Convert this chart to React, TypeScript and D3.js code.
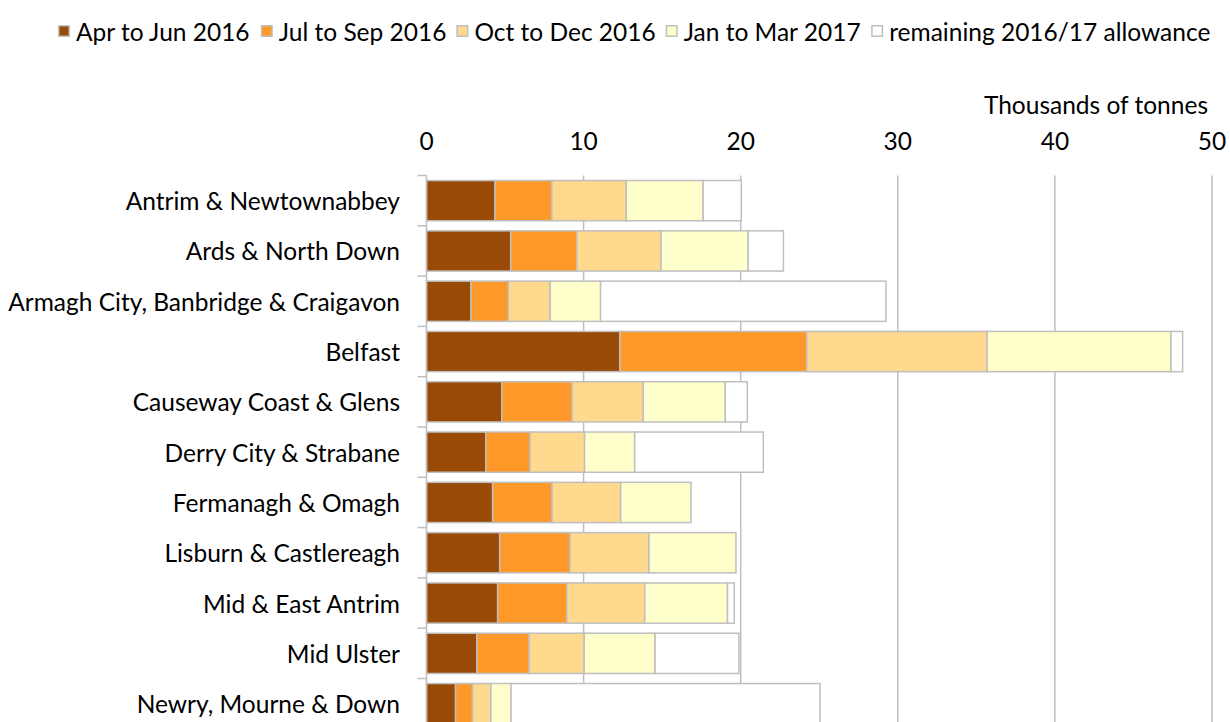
import React, { useMemo } from "react";
import * as d3 from "d3";

// council areas, top to bottom
const councils = [
  "Antrim & Newtownabbey",
  "Ards & North Down",
  "Armagh City, Banbridge & Craigavon",
  "Belfast",
  "Causeway Coast & Glens",
  "Derry City & Strabane",
  "Fermanagh & Omagh",
  "Lisburn & Castlereagh",
  "Mid & East Antrim",
  "Mid Ulster",
  "Newry, Mourne & Down",
];

// thousands of tonnes, per quarter
const aprJun = [4.36, 5.36, 2.83, 12.31, 4.79, 3.78, 4.21, 4.66, 4.53, 3.21, 1.85];
const julSep = [3.62, 4.21, 2.38, 11.89, 4.48, 2.81, 3.78, 4.47, 4.4, 3.32, 1.08];
const octDec = [4.74, 5.36, 2.66, 11.48, 4.53, 3.47, 4.37, 5.03, 4.96, 3.51, 1.17];
const janMar = [4.89, 5.55, 3.21, 11.71, 5.22, 3.19, 4.48, 5.54, 5.27, 4.51, 1.28];
const remaining = [2.43, 2.24, 18.17, 0.74, 1.4, 8.19, 0, 0, 0.43, 5.34, 19.67];

const seriesKeys = ["aprJun", "julSep", "octDec", "janMar", "remaining"];
const seriesNames = [
  "Apr to Jun 2016",
  "Jul to Sep 2016",
  "Oct to Dec 2016",
  "Jan to Mar 2017",
  "remaining 2016/17 allowance",
];
const seriesColors = ["#994a07", "#fe9929", "#fed98e", "#ffffcc", "#ffffff"];

const xTicks = [0, 10, 20, 30, 40, 50];
const xTitle = "Thousands of tonnes";

const FONT = "Lato, 'Open Sans', sans-serif";
const GREY = "#bfbfbf";

let ctx: CanvasRenderingContext2D | null = null;
function textWidth(text: string, size: number) {
  if (!ctx) ctx = document.createElement("canvas").getContext("2d");
  ctx!.font = `${size}px ${FONT}`;
  return ctx!.measureText(text).width;
}

export default function App() {
  const width = 1230,
    height = 722;

  const plotLeft = 426.5,
    plotRight = 1212,
    plotTop = 175.5,
    step = 50.3;

  // pick a size so the longest label spans the same width as in the source
  const fontSize = useMemo(() => {
    const w = textWidth("Armagh City, Banbridge & Craigavon", 100);
    return Math.min(26.5, (100 * 392) / w);
  }, []);

  // legend runs from about x=58 to x=1213
  const legendLeft = 58,
    legendRight = 1213,
    box = 12,
    boxGap = 6,
    itemGap = 10;
  const legendSize = useMemo(() => {
    const sum = d3.sum(seriesNames, n => textWidth(n, 100));
    const room =
      legendRight - legendLeft - seriesNames.length * (box + boxGap) - (seriesNames.length - 1) * itemGap;
    return Math.min(fontSize, (100 * room) / sum);
  }, [fontSize]);

  const x = d3.scaleLinear().domain([0, 50]).range([plotLeft, plotRight]);
  const y = d3
    .scaleBand()
    .domain(councils)
    .range([plotTop, plotTop + step * councils.length])
    .paddingInner(0.2)
    .paddingOuter(0.1);

  const rows = councils.map((c, i) => ({
    council: c,
    aprJun: aprJun[i],
    julSep: julSep[i],
    octDec: octDec[i],
    janMar: janMar[i],
    remaining: remaining[i],
  }));
  const stacked = d3.stack<any>().keys(seriesKeys)(rows);

  let lx = legendLeft;
  const legend = seriesNames.map((name, i) => {
    const item = { name, color: seriesColors[i], x: lx };
    lx += box + boxGap + textWidth(name, legendSize) + itemGap;
    return item;
  });

  const boundaries = d3.range(councils.length + 1).map(i => plotTop + i * step);

  return (
    <svg
      width={width}
      height={height}
      style={{ position: "absolute", left: 0, top: 0, background: "#fff" }}
      fontFamily={FONT}
      fontSize={fontSize}
    >
      <g fontSize={legendSize}>
        {legend.map(d => (
          <g key={d.name} transform={`translate(${d.x},${31 - box / 2})`}>
            <rect x={0.75} y={0.75} width={box - 1.5} height={box - 1.5} fill={d.color} stroke={GREY} strokeWidth={1.5} />
            <text x={box + boxGap} y={box / 2} dominantBaseline="central" fill="#000">
              {d.name}
            </text>
          </g>
        ))}
      </g>

      <text x={1208} y={104} textAnchor="end" dominantBaseline="central" fill="#000">
        {xTitle}
      </text>
      {xTicks.map(t => (
        <text key={t} x={x(t)} y={140} textAnchor="middle" dominantBaseline="central" fill="#000">
          {t}
        </text>
      ))}

      {xTicks.slice(1).map(t => (
        <line key={t} x1={x(t)} x2={x(t)} y1={plotTop} y2={height + 20} stroke={GREY} strokeWidth={1.5} />
      ))}

      {stacked.map((s, si) => (
        <g key={s.key} fill={seriesColors[si]} stroke={GREY} strokeWidth={1.5}>
          {s.map((d, i) =>
            d[1] - d[0] > 0 ? (
              <rect
                key={i}
                x={x(d[0])}
                y={y(councils[i])}
                width={x(d[1]) - x(d[0])}
                height={y.bandwidth()}
              />
            ) : null
          )}
        </g>
      ))}

      <line x1={plotLeft} x2={plotLeft} y1={plotTop} y2={height + 20} stroke={GREY} strokeWidth={1.5} />
      {boundaries.map((b, i) => (
        <line key={i} x1={plotLeft - 9} x2={plotLeft} y1={b} y2={b} stroke={GREY} strokeWidth={1.5} />
      ))}

      {councils.map(c => (
        <text
          key={c}
          x={400}
          y={y(c)! + y.bandwidth() / 2}
          textAnchor="end"
          dominantBaseline="central"
          fill="#000"
        >
          {c}
        </text>
      ))}
    </svg>
  );
}
